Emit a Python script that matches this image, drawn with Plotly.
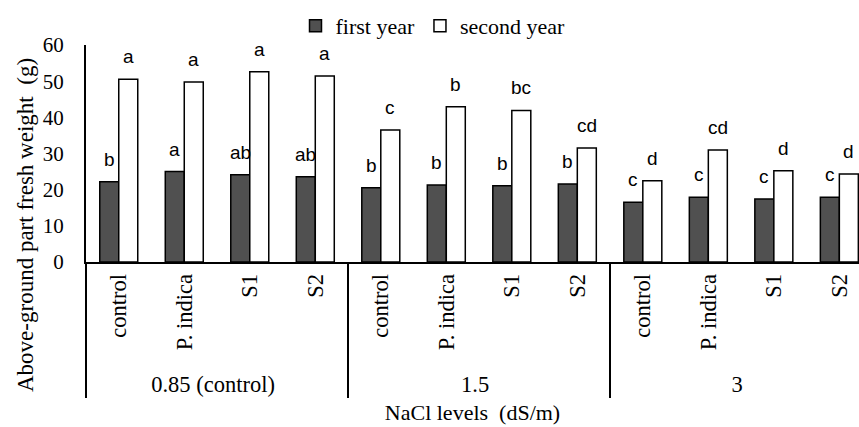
import plotly.graph_objects as go

groups = ["0.85 (control)", "1.5", "3"]
treatments = ["control", "P. indica", "S1", "S2"]
first_year = [22.2, 25.0, 24.1, 23.6, 20.5, 21.3, 21.1, 21.6, 16.5, 17.9, 17.4, 17.9]
second_year = [50.5, 49.8, 52.6, 51.4, 36.5, 42.9, 41.9, 31.5, 22.5, 31.0, 25.2, 24.3]
letters_first = ["b", "a", "ab", "ab", "b", "b", "b", "b", "c", "c", "c", "c"]
letters_second = ["a", "a", "a", "a", "c", "b", "bc", "cd", "d", "cd", "d", "d"]
y_ticks = [0, 10, 20, 30, 40, 50, 60]

outer = [g for g in groups for _ in treatments]
inner = [t for _ in groups for t in treatments]
x = [outer, inner]

SERIF = "Liberation Serif, Times New Roman, serif"
SANS = "Liberation Sans, Arial, sans-serif"
BARGAP = 0.42
half = (1 - BARGAP) / 4

W, H = 859, 427
ML, MR, MT, MB = 86, 0, 45, 165
PW, PH = W - ML - MR, H - MT - MB

fig = go.Figure()
fig.add_trace(go.Bar(x=x, y=first_year, name="first year",
                     marker=dict(color="#505050", line=dict(color="#000000", width=1.5))))
fig.add_trace(go.Bar(x=x, y=second_year, name="second year",
                     marker=dict(color="#ffffff", line=dict(color="#000000", width=1.5))))

ann = []
for i, (v, t) in enumerate(zip(first_year, letters_first)):
    ann.append(dict(x=i - half, y=v, text=t, xref="x", yref="y", showarrow=False,
                    yanchor="bottom", yshift=10, font=dict(family=SANS, size=19, color="#000")))
for i, (v, t) in enumerate(zip(second_year, letters_second)):
    ann.append(dict(x=i + half, y=v, text=t, xref="x", yref="y", showarrow=False,
                    yanchor="bottom", yshift=10, font=dict(family=SANS, size=19, color="#000")))
ann.append(dict(text="Above-ground part fresh weight  (g)", textangle=-90,
                xref="paper", yref="paper", x=(25 - ML) / PW, y=(H - MB - 225) / PH,
                xanchor="center", yanchor="middle", showarrow=False,
                font=dict(family=SERIF, size=23, color="#000")))

fig.update_layout(
    width=W, height=H,
    margin=dict(l=ML, r=MR, t=MT, b=MB, autoexpand=False),
    paper_bgcolor="#ffffff", plot_bgcolor="#ffffff",
    barmode="group", bargap=BARGAP, bargroupgap=0,
    font=dict(family=SERIF, size=21, color="#000000"),
    legend=dict(orientation="h", xref="container", yref="container",
                x=433 / W, xanchor="center", y=1 - 26 / H, yanchor="middle",
                font=dict(family=SERIF, size=22), itemwidth=30, tracegroupgap=0),
    annotations=ann,
    showlegend=True,
)
fig.update_xaxes(type="multicategory", range=[-0.5, 11.3],
                 showline=True, linecolor="#000", linewidth=2,
                 tickangle=-90, ticks="", showgrid=False,
                 showdividers=True, dividercolor="#000", dividerwidth=1.5,
                 ticklabelstandoff=1,
                 tickfont=dict(family=SERIF, size=22.5),
                 title=dict(text="NaCl levels  (dS/m)", font=dict(family=SERIF, size=22), standoff=9))
fig.update_yaxes(range=[0, 60], tickvals=y_ticks, showline=True, linecolor="#000", linewidth=2,
                 showgrid=False, ticks="", zeroline=False, ticklabelstandoff=16,
                 tickfont=dict(family=SERIF, size=21))

fig.write_html("out.html")
